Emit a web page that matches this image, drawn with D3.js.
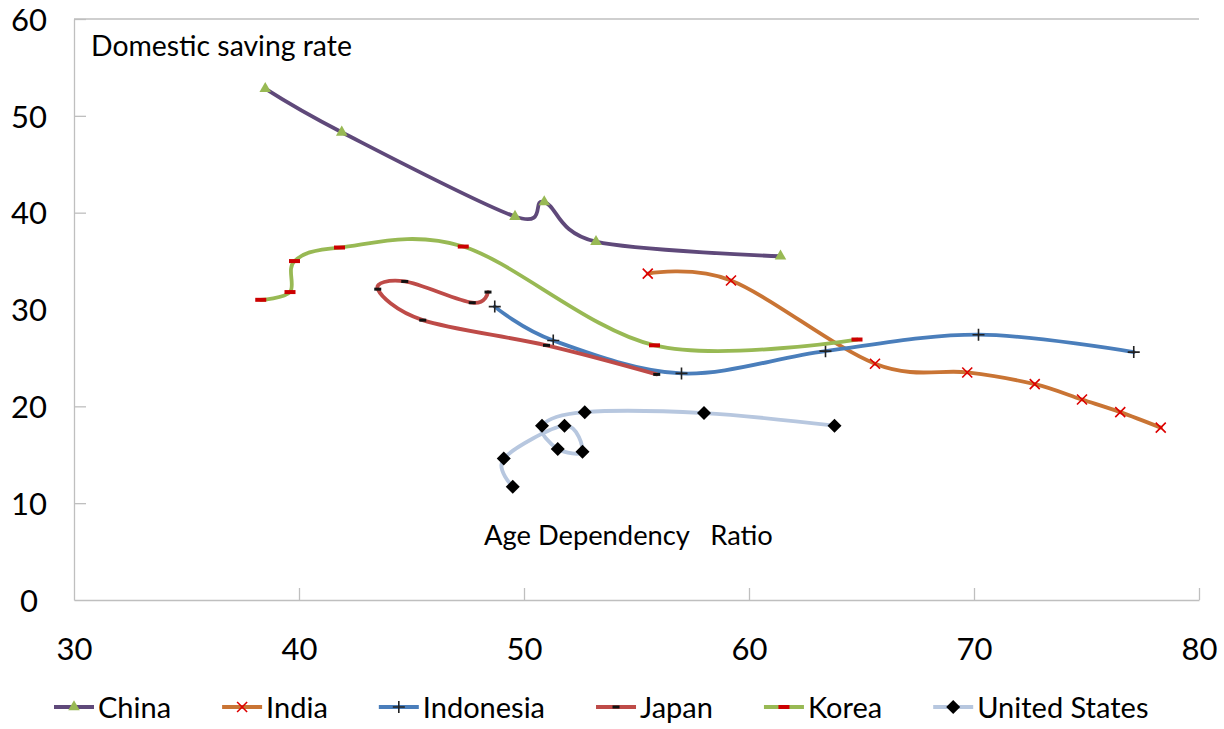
<!DOCTYPE html>
<html>
<head>
<meta charset="utf-8">
<script src="https://cdn.jsdelivr.net/npm/d3@7"></script>
<style>
  body { margin: 0; background: #fff; }
  svg { display: block; font-family: Lato, "Open Sans", sans-serif; }
</style>
</head>
<body>
<div id="chart"></div>
<script>
// age dependency ratio (x) vs domestic saving rate (y)
var china     = [[38.5,52.8],[41.9,48.3],[49.6,39.6],[50.9,41.1],[53.2,37.0],[61.4,35.5]];
var india     = [[55.5,33.7],[59.2,33.0],[65.6,24.4],[69.7,23.5],[72.7,22.3],[74.8,20.7],[76.5,19.4],[78.3,17.8]];
var indonesia = [[48.7,30.3],[51.3,26.8],[57.0,23.4],[63.4,25.7],[70.2,27.4],[77.1,25.6]];
var japan     = [[48.4,31.8],[47.7,30.7],[44.7,32.9],[43.5,32.1],[45.5,28.9],[51.0,26.3],[55.9,23.3]];
var korea     = [[38.3,31.0],[39.6,31.8],[39.8,35.0],[41.8,36.4],[47.3,36.5],[55.8,26.3],[64.8,26.9]];
var us        = [[49.5,11.7],[49.1,14.6],[51.8,18.0],[52.6,15.3],[51.5,15.6],[50.8,18.0],[52.7,19.4],[58.0,19.3],[63.8,18.0]];

var names = ["China","India","Indonesia","Japan","Korea","United States"];
var xTicks = [30,40,50,60,70,80];
var yTicks = [0,10,20,30,40,50,60];

var W = 1224, H = 729;

var series = [
  {name: names[0], data: china,     line: "#5f497a", mark: "tri"},
  {name: names[1], data: india,     line: "#c97434", mark: "x"},
  {name: names[2], data: indonesia, line: "#4a7ebb", mark: "plus"},
  {name: names[3], data: japan,     line: "#be4b48", mark: "jdash"},
  {name: names[4], data: korea,     line: "#98b954", mark: "kdash"},
  {name: names[5], data: us,        line: "#b7c7df", mark: "diamond"}
];

var x = d3.scaleLinear().domain([30,80]).range([74,1199]);
var y = d3.scaleLinear().domain([0,60]).range([600,19]);

var svg = d3.select("#chart").append("svg")
    .attr("width", W)
    .attr("height", H);

svg.append("rect").attr("width", W).attr("height", H).attr("fill", "#fff");

var axisCol = "#bfbfbf";

// plot area top edge
svg.append("line")
    .attr("x1", x(30)).attr("x2", x(80))
    .attr("y1", y(60)).attr("y2", y(60))
    .attr("stroke", axisCol).attr("stroke-width", 1.3);

var gx = svg.append("g")
    .attr("transform", "translate(0," + y(0) + ")")
    .call(d3.axisBottom(x).tickValues(xTicks).tickSize(-12).tickSizeOuter(0));
gx.selectAll("text").attr("y", 60).attr("dy", null)
    .attr("font-size", 31).attr("fill", "#000");

var gy = svg.append("g")
    .attr("transform", "translate(" + x(30) + ",0)")
    .call(d3.axisLeft(y).tickValues(yTicks).tickSize(-12).tickSizeOuter(0));
gy.selectAll("text").attr("x", -45).attr("dy", "0.36em")
    .attr("text-anchor", "middle")
    .attr("font-size", 31).attr("fill", "#000");

svg.selectAll(".domain, .tick line")
    .attr("stroke", axisCol).attr("stroke-width", 1.3);
svg.selectAll(".tick").filter(function(d) { return d === 30 || d === 0; })
    .select("line").remove();
svg.selectAll("g").attr("font-family", null);

function drawMarker(g, type) {
  if (type === "tri") {
    g.append("path").attr("d", d3.symbol(d3.symbolTriangle, 58)())
        .attr("fill", "#98b954");
  } else if (type === "x") {
    g.append("path").attr("d", "M-5,-5L5,5M5,-5L-5,5")
        .attr("stroke", "#dd0000").attr("stroke-width", 1.6).attr("fill", "none");
  } else if (type === "plus") {
    g.append("path").attr("d", "M-6,0H6M0,-6V6")
        .attr("stroke", "#222").attr("stroke-width", 1.6).attr("fill", "none");
  } else if (type === "jdash") {
    g.append("rect").attr("x", -3.5).attr("y", -1.5).attr("width", 7).attr("height", 3)
        .attr("fill", "#111");
  } else if (type === "kdash") {
    g.append("rect").attr("x", -5.5).attr("y", -2).attr("width", 11).attr("height", 4)
        .attr("fill", "#cc0000");
  } else if (type === "diamond") {
    g.append("path").attr("d", "M0,-7L7,0L0,7L-7,0Z").attr("fill", "#000");
  }
}

var line = d3.line()
    .x(function(d) { return x(d[0]); })
    .y(function(d) { return y(d[1]); })
    .curve(d3.curveCardinal.tension(0));

series.forEach(function(s) {
  var g = svg.append("g");
  g.append("path")
      .attr("d", line(s.data))
      .attr("fill", "none")
      .attr("stroke", s.line)
      .attr("stroke-width", 3.8)
      .attr("stroke-linejoin", "round")
      .attr("stroke-linecap", "round");
  g.selectAll("g.pt").data(s.data).enter().append("g")
      .attr("class", "pt")
      .attr("transform", function(d) { return "translate(" + x(d[0]) + "," + y(d[1]) + ")"; })
      .each(function() { drawMarker(d3.select(this), s.mark); });
});

// text boxes inside the plot, fitted to the width they take in the picture
function label(txt, x0, base, width) {
  var t = svg.append("text")
      .attr("x", x0).attr("y", base)
      .attr("font-size", 30)
      .attr("fill", "#000")
      .style("white-space", "pre")
      .text(txt);
  var w = t.node().getComputedTextLength();
  t.attr("font-size", 30 * width / w);
}
label("Domestic saving rate", 91, 56, 261);
label("Age Dependency   Ratio", 484, 545, 289);

// legend
var lx = 54, ly = 707;
series.forEach(function(s) {
  var g = svg.append("g").attr("transform", "translate(" + lx + "," + ly + ")");
  g.append("line").attr("x1", 0).attr("x2", 40)
      .attr("stroke", s.line).attr("stroke-width", 3.8);
  drawMarker(g.append("g").attr("transform", "translate(20,0)"), s.mark);
  var t = g.append("text").attr("x", 44).attr("y", 11)
      .attr("font-size", 29).attr("fill", "#000")
      .text(s.name);
  lx += 44 + t.node().getComputedTextLength() + 51;
});
</script>
</body>
</html>
